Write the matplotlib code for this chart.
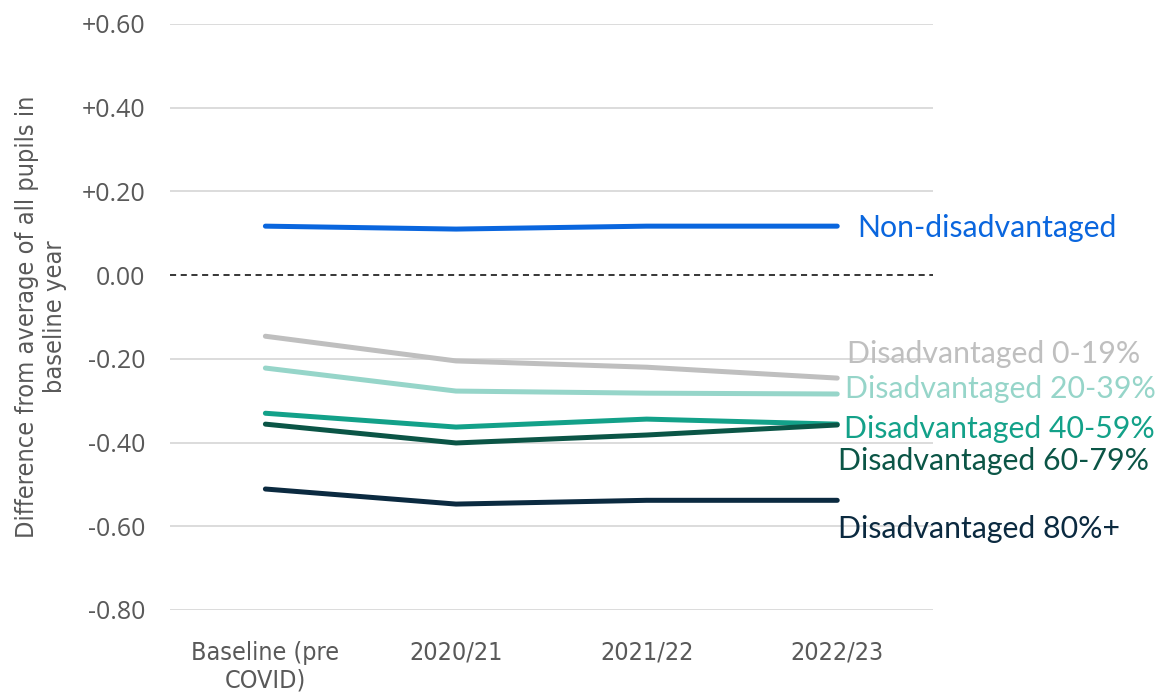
import matplotlib
matplotlib.use("Agg")
import matplotlib.pyplot as plt
from matplotlib.ticker import FixedLocator

# data
periods = ["Baseline (pre\nCOVID)", "2020/21", "2021/22", "2022/23"]
non_dis = [0.117, 0.110, 0.117, 0.117]
dis_0_19 = [-0.146, -0.205, -0.220, -0.246]
dis_20_39 = [-0.222, -0.277, -0.282, -0.284]
dis_40_59 = [-0.330, -0.363, -0.344, -0.356]
dis_60_79 = [-0.356, -0.401, -0.382, -0.358]
dis_80 = [-0.511, -0.547, -0.538, -0.538]

series_names = ["Non-disadvantaged", "Disadvantaged 0-19%", "Disadvantaged 20-39%",
                "Disadvantaged 40-59%", "Disadvantaged 60-79%", "Disadvantaged 80%+"]
yticks = [0.6, 0.4, 0.2, 0.0, -0.2, -0.4, -0.6, -0.8]
ytick_labels = ["+0.60", "+0.40", "+0.20", "0.00", "-0.20", "-0.40", "-0.60", "-0.80"]

colors = ["#0A66DE", "#BFBFBF", "#96D5C9", "#13A189", "#0B5546", "#0B2A40"]
# label anchor (x in category units, y in data units)
label_pos = [(3.105, 0.112), (3.052, -0.189), (3.042, -0.272),
             (3.037, -0.368), (3.005, -0.444), (3.005, -0.607)]

label_font = ["Lato", "DejaVu Sans"]

fig = plt.figure(figsize=(11.57, 6.93), dpi=100)
ax = fig.add_axes([0.147, 0.1198, 0.659, 0.8456])

x = list(range(len(periods)))
all_series = [non_dis, dis_0_19, dis_20_39, dis_40_59, dis_60_79, dis_80]

for val in yticks:
    if val != 0:
        ax.axhline(val, color="#D9D9D9", lw=1.3, zorder=0)
ax.axhline(0, color="black", lw=1.1, ls=(0, (4, 3)), zorder=1)

for vals, c, name, (lx, ly) in zip(all_series, colors, series_names, label_pos):
    ax.plot(x, vals, color=c, lw=3.6, solid_capstyle="round", zorder=2)
    ax.text(lx, ly, name, color=c, fontsize=21.8, va="center", ha="left",
            family=label_font, clip_on=False)

ax.set_xlim(-0.5, 3.5)
ax.set_ylim(-0.8, 0.6)
ax.yaxis.set_major_locator(FixedLocator(yticks))
ax.set_yticklabels(ytick_labels, fontsize=18, color="#595959", family=["Open Sans", "DejaVu Sans"])
ax.set_xticks(x)
ax.set_xticklabels(periods, fontsize=18, color="#595959", family="DejaVu Sans",
                   fontstretch="condensed", linespacing=1.2)
ax.tick_params(length=0, pad=18, axis="y")
ax.tick_params(length=0, pad=22, axis="x")
for s in ax.spines.values():
    s.set_visible(False)

fig.text(41 / 1157, 1 - 317 / 693, "Difference from average of all pupils in\nbaseline year",
         rotation=90, ha="center", va="center", multialignment="center", fontsize=18.2,
         color="#595959", family="DejaVu Sans", fontstretch="condensed", linespacing=1.25)

fig.savefig("out.png", dpi=100)
